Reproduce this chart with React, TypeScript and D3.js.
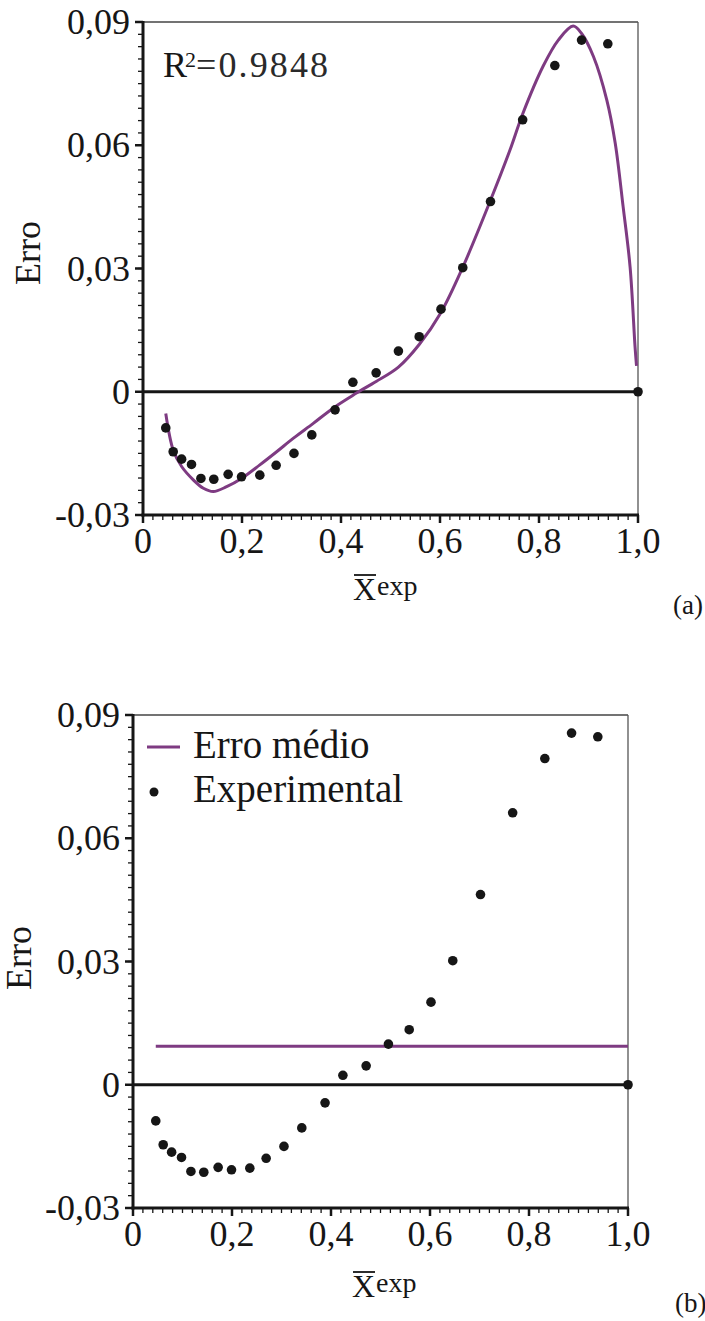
import React from "react";
import * as d3 from "d3";

// ---- data ----
const expX = [0.046, 0.061, 0.078, 0.098, 0.117, 0.143, 0.172, 0.199, 0.236, 0.269, 0.305, 0.341, 0.388, 0.424, 0.471, 0.516, 0.558, 0.602, 0.646, 0.702, 0.767, 0.832, 0.886, 0.939, 1.0];
const expY = [-0.0088, -0.0146, -0.0164, -0.0177, -0.0211, -0.0213, -0.0201, -0.0207, -0.0203, -0.0179, -0.0150, -0.0105, -0.0044, 0.0023, 0.0046, 0.0099, 0.0134, 0.0201, 0.0302, 0.0463, 0.0662, 0.0794, 0.0856, 0.0847, 0.0];

const fitX = [0.046, 0.061, 0.078, 0.102, 0.122, 0.142, 0.169, 0.199, 0.236, 0.270, 0.304, 0.344, 0.384, 0.425, 0.438, 0.471, 0.516, 0.558, 0.602, 0.646, 0.702, 0.741, 0.767, 0.809, 0.839, 0.869, 0.886, 0.910, 0.937, 0.954, 0.970, 0.984, 0.994, 0.997];
const fitY = [-0.0053, -0.0142, -0.0182, -0.0215, -0.0235, -0.0243, -0.0231, -0.0211, -0.0178, -0.0146, -0.0113, -0.0077, -0.0040, -0.0008, 0.0002, 0.0025, 0.0060, 0.0115, 0.0193, 0.0303, 0.0466, 0.0587, 0.0676, 0.0794, 0.0856, 0.0890, 0.0872, 0.0816, 0.0710, 0.0605, 0.0450, 0.0304, 0.0110, 0.0063];

const meanError = 0.0094;

const xTicks = [0, 0.2, 0.4, 0.6, 0.8, 1.0];
const xTickLabels = ["0", "0,2", "0,4", "0,6", "0,8", "1,0"];
const yTicks = [-0.03, 0, 0.03, 0.06, 0.09];
const yTickLabels = ["-0,03", "0", "0,03", "0,06", "0,09"];

const FONT = "'Liberation Serif', 'Times New Roman', serif";
const PURPLE = "#7e3b82";
const INK = "#161616";

const W = 495;
const H = 493;

type PanelProps = {
  x0: number;
  y0: number;
  mode: "a" | "b";
  ylabX: number;
  ylabY: number;
  xlabX: number;
  xlabY: number;
  tagX: number;
  tagY: number;
};

function Panel({ x0, y0, mode, ylabX, ylabY, xlabX, xlabY, tagX, tagY }: PanelProps) {
  const x = d3.scaleLinear().domain([0, 1]).range([x0, x0 + W]);
  const y = d3.scaleLinear().domain([-0.03, 0.09]).range([y0 + H, y0]);

  const xMinor = d3.range(0, 1.0001, 0.02);
  const yMinor = d3.range(-0.03, 0.09001, 0.003);

  const pts = expX.map((v, i) => [v, expY[i]] as [number, number]);
  const fitPts = fitX.map((v, i) => [v, fitY[i]] as [number, number]);
  const line = d3
    .line<[number, number]>()
    .x((d) => x(d[0]))
    .y((d) => y(d[1]))
    .curve(d3.curveCatmullRom.alpha(0.5));

  return (
    <g>
      {/* frame: thin top and right */}
      <line x1={x(0)} x2={x(1)} y1={y(0.09)} y2={y(0.09)} stroke="#444" strokeWidth={1.5} />
      <line x1={x(1)} x2={x(1)} y1={y(0.09)} y2={y(-0.03)} stroke="#555" strokeWidth={1.3} />

      {/* minor ticks */}
      {xMinor.map((t, i) => (
        <line key={"xm" + i} x1={x(t)} x2={x(t)} y1={y(-0.03)} y2={y(-0.03) + 5} stroke={INK} strokeWidth={1.3} />
      ))}
      {yMinor.map((t, i) => (
        <line key={"ym" + i} x1={x(0) - 5} x2={x(0)} y1={y(t)} y2={y(t)} stroke={INK} strokeWidth={1.3} />
      ))}
      {/* major ticks */}
      {xTicks.map((t, i) => (
        <line key={"xM" + i} x1={x(t)} x2={x(t)} y1={y(-0.03)} y2={y(-0.03) + 8} stroke={INK} strokeWidth={2.5} />
      ))}
      {yTicks.map((t, i) => (
        <line key={"yM" + i} x1={x(0) - 8} x2={x(0)} y1={y(t)} y2={y(t)} stroke={INK} strokeWidth={2.5} />
      ))}

      {/* axes */}
      <line x1={x(0)} x2={x(0)} y1={y(0.09) - 1} y2={y(-0.03) + 1.5} stroke={INK} strokeWidth={3} />
      <line x1={x(0) - 1.5} x2={x(1) + 1} y1={y(-0.03)} y2={y(-0.03)} stroke={INK} strokeWidth={3} />

      {/* zero line */}
      <line x1={x(0)} x2={x(1)} y1={y(0)} y2={y(0)} stroke={INK} strokeWidth={3} />

      {/* tick labels */}
      {xTicks.map((t, i) => (
        <text key={"xl" + i} x={x(t)} y={y(-0.03) + 38} textAnchor="middle" fontFamily={FONT} fontSize={36} fill={INK}>
          {xTickLabels[i]}
        </text>
      ))}
      {yTicks.map((t, i) => (
        <text key={"yl" + i} x={x(0) - 13} y={y(t) + 12} textAnchor="end" fontFamily={FONT} fontSize={36} fill={INK}>
          {yTickLabels[i]}
        </text>
      ))}

      {/* y label */}
      <text
        transform={`translate(${ylabX},${ylabY}) rotate(-90)`}
        textAnchor="middle"
        fontFamily={FONT}
        fontSize={36}
        fill={INK}
      >
        Erro
      </text>

      {/* x label */}
      <text x={xlabX} y={xlabY} fontFamily={FONT} fontSize={32} fill={INK}>
        X
      </text>
      <line x1={xlabX + 1} x2={xlabX + 23} y1={xlabY - 25} y2={xlabY - 25} stroke={INK} strokeWidth={1.8} />
      <text x={xlabX + 24} y={xlabY - 5} fontFamily={FONT} fontSize={28} fill={INK}>
        exp
      </text>

      {/* panel tag */}
      <text x={tagX} y={tagY} fontFamily={FONT} fontSize={27} fill={INK}>
        {mode === "a" ? "(a)" : "(b)"}
      </text>

      {mode === "a" ? (
        <g>
          <path d={line(fitPts) || ""} fill="none" stroke={PURPLE} strokeWidth={3} />
          <text x={x0 + 20} y={y0 + 55} fontFamily={FONT} fontSize={36} fill={INK}>
            R
          </text>
          <text x={x0 + 42} y={y0 + 45} fontFamily={FONT} fontSize={22} fill={INK}>
            2
          </text>
          <text x={x0 + 53} y={y0 + 55} fontFamily={FONT} fontSize={36} fill="#2a2a2a" textLength={132} lengthAdjust="spacing">
            =0.9848
          </text>
        </g>
      ) : (
        <g>
          <line x1={x(expX[0])} x2={x(1)} y1={y(meanError)} y2={y(meanError)} stroke={PURPLE} strokeWidth={3} />
          {/* legend */}
          <line x1={x0 + 14} x2={x0 + 47} y1={y0 + 32} y2={y0 + 32} stroke={PURPLE} strokeWidth={3} />
          <text x={x0 + 60} y={y0 + 43} fontFamily={FONT} fontSize={39} fill={INK}>
            Erro médio
          </text>
          <circle cx={x0 + 21} cy={y0 + 77} r={4.5} fill={INK} />
          <text x={x0 + 60} y={y0 + 87} fontFamily={FONT} fontSize={39} fill={INK}>
            Experimental
          </text>
        </g>
      )}

      {/* experimental points */}
      {pts.map((p, i) => (
        <circle key={"p" + i} cx={x(p[0])} cy={y(p[1])} r={4.8} fill={INK} />
      ))}
    </g>
  );
}

export default function App() {
  return (
    <svg width={705} height={1321} style={{ position: "absolute", left: 0, top: 0, background: "#fff" }}>
      <rect x={0} y={0} width={705} height={1321} fill="#fff" />
      <Panel x0={143} y0={22} mode="a" ylabX={40} ylabY={253} xlabX={353} xlabY={600} tagX={673} tagY={614} />
      <Panel x0={133} y0={715} mode="b" ylabX={31} ylabY={958} xlabX={352} xlabY={1297} tagX={675} tagY={1312} />
    </svg>
  );
}
